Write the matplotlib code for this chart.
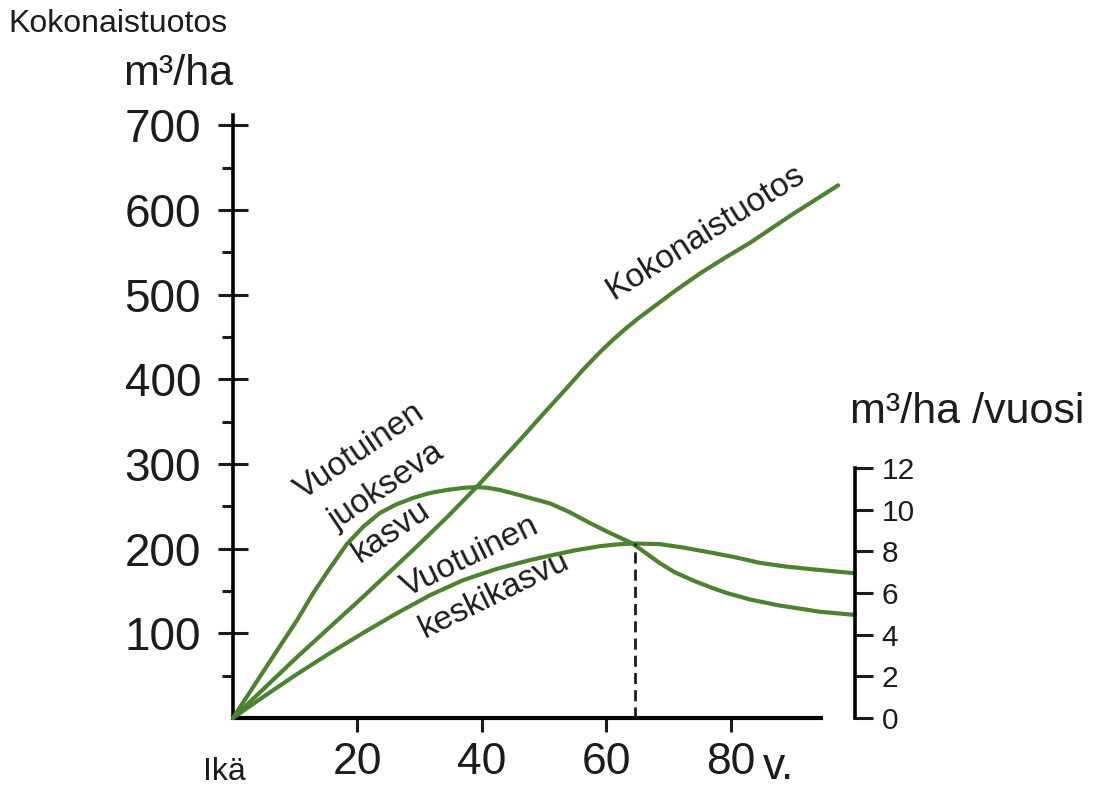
import numpy as np
import matplotlib
matplotlib.use("Agg")
import matplotlib.pyplot as plt

plt.rcParams['font.family'] = ['Liberation Sans', 'DejaVu Sans']

# --- data ---
# Kokonaistuotos (m3/ha, left axis)
age_total = [0, 10.3, 20.9, 28.9, 34.4, 39.2, 46.1, 50, 53.7, 56.5, 59, 61, 63, 65, 67,
             71, 75.1, 79, 83.1, 90, 97.3]
total = [0, 72, 143, 198, 237, 273, 328, 360, 390, 413, 432, 446, 459, 471, 482,
         504, 525, 543, 561, 595, 629]

# Vuotuinen juokseva kasvu (m3/ha/vuosi, right axis)
age_current = [0, 4.8, 10.3, 12.9, 15.6, 18.3, 21, 23.6, 26.2, 28.9, 31.6, 34.4, 37, 39.2,
               41, 42.9, 46.1, 51, 54, 57.4, 60.5, 64.1, 66, 68.6, 71, 74, 77, 79.4,
               83, 87.5, 94.4, 100]
current = [0, 2.2, 4.7, 6.0, 7.2, 8.35, 9.2, 9.84, 10.25, 10.56, 10.8, 10.95, 11.05, 11.09,
           11.05, 10.95, 10.7, 10.3, 9.9, 9.36, 8.9, 8.4, 8.0, 7.44, 7.0, 6.6, 6.25, 6.0,
           5.7, 5.42, 5.1, 4.95]

# Vuotuinen keskikasvu (m3/ha/vuosi, right axis)
age_mean = [0, 4.8, 10, 15.6, 21, 26.4, 31.7, 37, 42.3, 47.7, 51, 55, 59, 61.5, 64.3, 68.6,
            72.5, 76.7, 80.7, 84.7, 88.7, 92.8, 96.4, 100]
mean = [0, 1.0, 2.05, 3.12, 4.1, 5.04, 5.9, 6.62, 7.15, 7.58, 7.8, 8.05, 8.25, 8.33, 8.38,
        8.35, 8.18, 7.95, 7.72, 7.45, 7.28, 7.15, 7.05, 6.95]

# culmination age of mean increment (dashed line)
culm_age = 64.7
culm_value = 8.38

left_ticks = [100, 200, 300, 400, 500, 600, 700]
left_minor = [50, 150, 250, 350, 450, 550, 650]
right_ticks = [0, 2, 4, 6, 8, 10, 12]
x_ticks = [20, 40, 60, 80]
x_ticklabels = ['20', '40', '60', '80']

green = '#4b8330'
ink = '#1c1c1c'

fig = plt.figure(figsize=(11.18, 7.86), dpi=100)
W, H = 1118, 786
# axes box in pixels: left spine x=233, right spine x=855, bottom y=718, top y=115
ax = fig.add_axes([233 / W, 1 - 718 / H, (855 - 233) / W, (718 - 115) / H])
ax2 = ax.twinx()

ytop = 712
ratio = 24.59  # left units per right unit
ax.set_xlim(0, 100)
ax.set_ylim(0, ytop)
ax2.set_ylim(0, ytop / ratio)

for a in (ax, ax2):
    a.patch.set_visible(False)
    for s in a.spines.values():
        s.set_visible(False)

ax.spines['left'].set_visible(True)
ax.spines['left'].set_bounds(0, ytop)
ax.spines['left'].set_linewidth(2.6)
ax.spines['bottom'].set_visible(True)
ax.spines['bottom'].set_bounds(0, 94.6)
ax.spines['bottom'].set_linewidth(3)
ax2.spines['right'].set_visible(True)
ax2.spines['right'].set_bounds(0, 12)
ax2.spines['right'].set_linewidth(2.6)

ax.set_yticks(left_ticks)
ax.set_yticks(left_minor, minor=True)
ax.set_yticklabels([str(v) for v in left_ticks])
ax.tick_params(axis='y', which='major', direction='inout', length=22, width=2.2,
               labelsize=33, pad=12, colors=ink)
ax.tick_params(axis='y', which='minor', direction='out', length=8, width=2.2, colors=ink)

ax.set_xticks(x_ticks)
ax.set_xticklabels(x_ticklabels)
ax.tick_params(axis='x', direction='out', length=10, width=2.2, labelsize=32, pad=7,
               colors=ink)

ax2.set_yticks(right_ticks)
ax2.set_yticklabels([str(v) for v in right_ticks])
ax2.tick_params(axis='y', direction='out', length=13, width=2.2, labelsize=21.5, pad=6,
                colors=ink)

# curves
ax.plot(age_total, total, color=green, lw=3, solid_capstyle='round',
        solid_joinstyle='round', clip_on=False)
ax2.plot(age_current, current, color=green, lw=3, solid_capstyle='round',
         solid_joinstyle='round', clip_on=False)
ax2.plot(age_mean, mean, color=green, lw=3, solid_capstyle='round',
         solid_joinstyle='round', clip_on=False)
ax2.plot([culm_age, culm_age], [0, culm_value], color=ink, lw=2, dashes=(4, 2.2))

# curve labels
lab = dict(fontsize=24, color=ink, ha='left', va='baseline', rotation_mode='anchor')
ax.text(11.3, 257, 'Vuotuinen', rotation=34, **lab)
ax.text(16.7, 222, 'juokseva', rotation=34, **lab)
ax.text(20.4, 183, 'kasvu', rotation=34, **lab)
ax.text(28, 143, 'Vuotuinen', rotation=26, **lab)
ax.text(30.8, 94, 'keskikasvu', rotation=26, **lab)
ax.text(61.1, 493, 'Kokonaistuotos', rotation=32, **lab)

# axis titles
fig.text(8 / W, 1 - 32 / H, 'Kokonaistuotos', fontsize=23, color=ink, va='baseline')
fig.text(123 / W, 1 - 85 / H, 'm³/ha', fontsize=31, color=ink, va='baseline')
fig.text(850 / W, 1 - 423 / H, 'm³/ha /vuosi', fontsize=31, color=ink, va='baseline')
fig.text(203 / W, 1 - 780 / H, 'Ikä', fontsize=23, color=ink, va='baseline')
fig.text(763 / W, 1 - 779 / H, 'v.', fontsize=32, color=ink, va='baseline')

fig.savefig('out.png', dpi=100, facecolor='white')
